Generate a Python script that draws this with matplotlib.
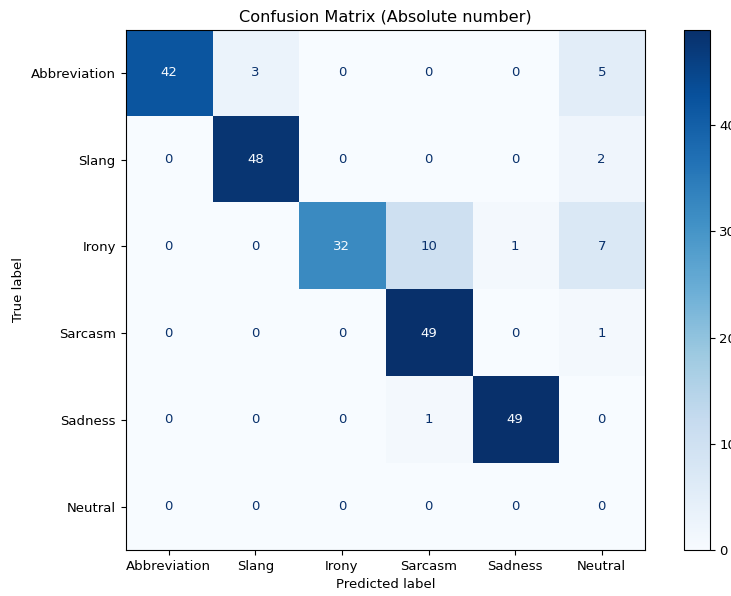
import numpy as np
import matplotlib
matplotlib.use('Agg')
import matplotlib.pyplot as plt

labels = ['Abbreviation', 'Slang', 'Irony', 'Sarcasm', 'Sadness', 'Neutral']
row_abbreviation = [42, 3, 0, 0, 0, 5]
row_slang = [0, 48, 0, 0, 0, 2]
row_irony = [0, 0, 32, 10, 1, 7]
row_sarcasm = [0, 0, 0, 49, 0, 1]
row_sadness = [0, 0, 0, 1, 49, 0]
row_neutral = [0, 0, 0, 0, 0, 0]

cm = np.array([row_abbreviation, row_slang, row_irony,
               row_sarcasm, row_sadness, row_neutral])
n = len(labels)

plt.rcParams['font.size'] = 9.5

W, H = 731, 596
fig = plt.figure(figsize=(W / 100, H / 100), dpi=100)
ax = fig.add_axes([125.5 / W, 46 / H, 519.5 / W, 520.5 / H])
cax = fig.add_axes([683.5 / W, 46 / H, 26 / W, 520.5 / H])

cmap = plt.get_cmap('Blues')
im = ax.imshow(cm, interpolation='nearest', cmap=cmap, aspect='auto')

# white text on dark cells, dark text on light ones (same rule as sklearn)
thresh = (cm.max() + cm.min()) / 2.0
c_max, c_min = cmap(1.0), cmap(0.0)
for i in range(n):
    for j in range(n):
        color = c_min if cm[i, j] >= thresh else c_max
        ax.text(j, i, format(cm[i, j], 'd'), ha='center', va='center', color=color)

fig.colorbar(im, cax=cax)

ax.set_xticks(range(n), labels)
ax.set_yticks(range(n), labels)
ax.set_xlabel('Predicted label')
ax.set_ylabel('True label')
ax.set_title('Confusion Matrix (Absolute number)', fontsize=11.6)

fig.savefig('out.png', dpi=100)
